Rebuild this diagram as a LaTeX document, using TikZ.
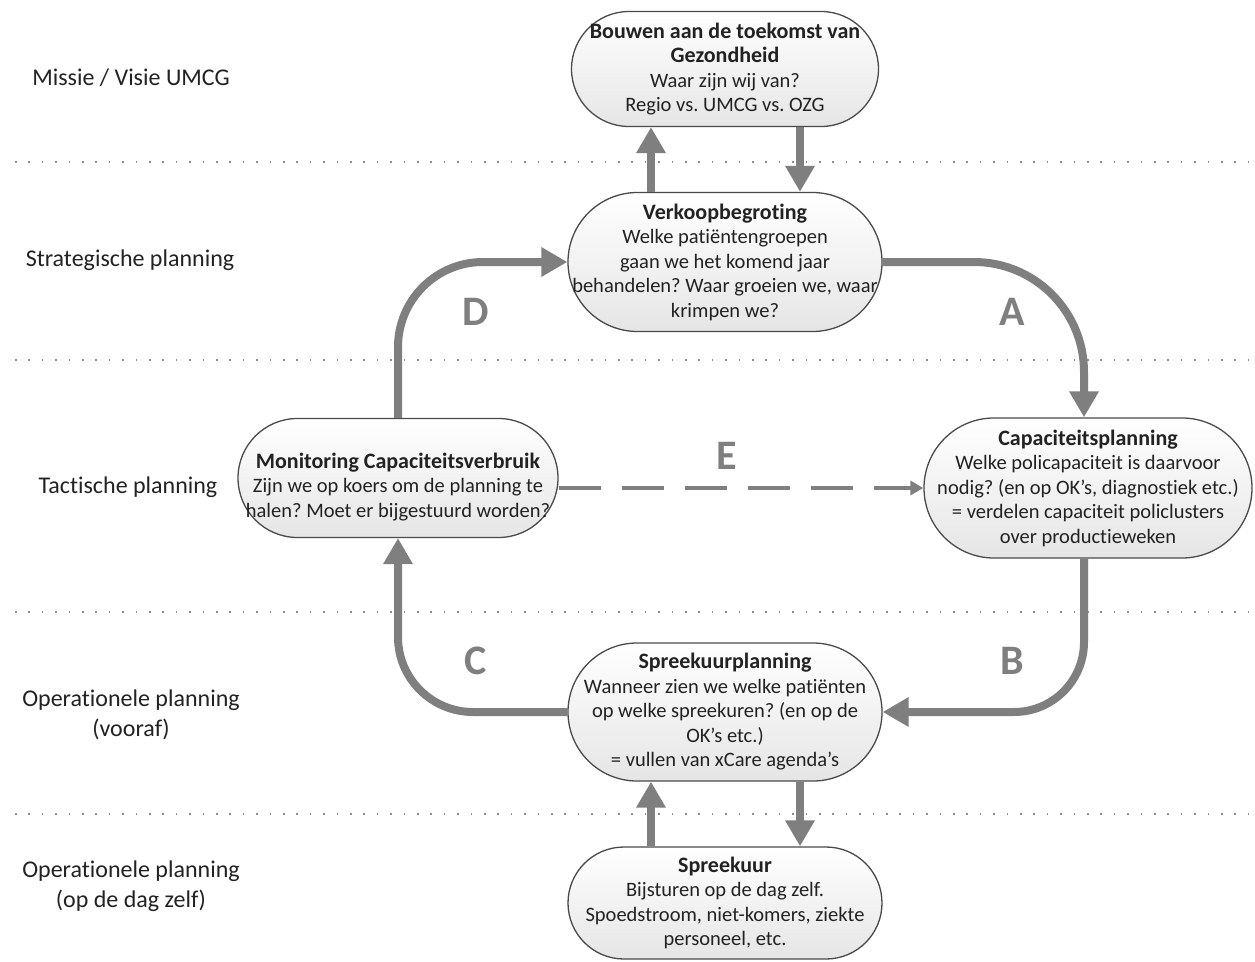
\documentclass[tikz,border=0pt]{standalone}
\usepackage{fontspec}
\setmainfont[Ligatures=CommonOff]{Carlito}
\usetikzlibrary{arrows.meta}

\definecolor{flow}{HTML}{7F7F7F}
\definecolor{rim}{HTML}{4A4A4A}
\definecolor{ink}{HTML}{222222}
\definecolor{sep}{HTML}{8C8C8C}

\newcommand\steptitle[1]{{\fontsize{22}{24.5}\selectfont\bfseries #1}}

\begin{document}
\frenchspacing
\begin{tikzpicture}[x=1pt,y=-1pt,
  box/.style 2 args={draw=rim, line width=1.3pt, top color=white, bottom color=black!10,
    rectangle, rounded corners=#2/2, minimum width=#1, minimum height=#2,
    inner sep=0pt, align=center, text=ink,
    font=\fontsize{20.5}{24.5}\selectfont},
  boxtext/.style={inner sep=0pt, align=center, text=ink,
    font=\fontsize{20.5}{24.5}\selectfont},
  rowlabel/.style={align=center, text=ink, font=\fontsize{24}{30}\selectfont},
  sepline/.style={draw=sep, line width=1.6pt, dash pattern=on 1.6pt off 11.8pt},
  flowarrow/.style={draw=flow, line width=8pt, -{Triangle[width=28pt,length=26pt]}},
  dasharrow/.style={draw=flow, line width=4pt, dash pattern=on 42pt off 21pt,
    -{Triangle[width=14pt,length=13pt]}},
  tag/.style={text=flow, font=\fontsize{42}{42}\selectfont\bfseries}]

\fill[white] (0,0) rectangle (1255,961);
\useasboundingbox (0,0) rectangle (1255,961);

% level separators
\foreach \yy in {162,360,612,814}
  \draw[sepline] (15,\yy) -- (1255,\yy);

% level names
\node[rowlabel] (l1) at (131,78) {Missie / Visie UMCG};
\node[rowlabel] (l2) at (130,260) {Strategische planning};
\node[rowlabel] (l3) at (128,487) {Tactische planning};
\node[rowlabel] (l4) at (131,715) {Operationele planning\\(vooraf)};
\node[rowlabel] (l5) at (131,886) {Operationele planning\\(op de dag zelf)};

% planning steps
\node[box={307}{115}] (mis) at (725,69)
  {\steptitle{Bouwen aan de toekomst van}\\\steptitle{Gezondheid}\\Waar zijn wij van?\\Regio vs. UMCG vs. OZG};
\node[box={314}{139}] (verk) at (725,262)
  {\steptitle{Verkoopbegroting}\\Welke patiëntengroepen\\gaan we het komend jaar\\behandelen? Waar groeien we, waar\\krimpen we?};
\node[box={320}{119}] (mon) at (398,478) {};
\node[boxtext] (montext) at ([yshift=-9pt]mon.center)
  {\steptitle{Monitoring Capaciteitsverbruik}\\Zijn we op koers om de planning te\\halen? Moet er bijgestuurd worden?};
\node[box={328}{140}] (cap) at (1088,488)
  {\steptitle{Capaciteitsplanning}\\Welke policapaciteit is daarvoor\\nodig? (en op OK’s, diagnostiek etc.)\\= verdelen capaciteit policlusters\\over productieweken};
\node[box={314}{138}] (spk) at (725,712)
  {\steptitle{Spreekuurplanning}\\Wanneer zien we welke patiënten\\op welke spreekuren? (en op de\\OK’s etc.)\\= vullen van xCare agenda’s};
\node[box={314}{112}] (day) at (725,903)
  {\steptitle{Spreekuur}\\Bijsturen op de dag zelf.\\Spoedstroom, niet-komers, ziekte\\personeel, etc.};

% vertical exchanges between levels
\draw[flowarrow] ([xshift=-74pt]verk.north) -- ([xshift=-74pt]mis.south);
\draw[flowarrow] ([xshift=75pt]mis.south) -- ([xshift=75pt]verk.north);
\draw[flowarrow] ([xshift=-74pt]day.north) -- ([xshift=-74pt]spk.south);
\draw[flowarrow] ([xshift=75pt]spk.south) -- ([xshift=75pt]day.north);

% planning cycle
\draw[flowarrow, rounded corners=110pt] (verk.east) -| ([xshift=-4pt]cap.north);
\draw[flowarrow, rounded corners=70pt] ([xshift=-4pt]cap.south) |- (spk.east);
\draw[flowarrow, rounded corners=75pt] (spk.west) -| (mon.south);
\draw[flowarrow, rounded corners=85pt] (mon.north) |- (verk.west);
\draw[dasharrow] (mon.east |- cap.west) -- (cap.west);

% cycle step letters
\node[tag] (tA) at (1012,312) {A};
\node[tag] (tB) at (1012,661) {B};
\node[tag] (tC) at (476,661) {C};
\node[tag] (tD) at (476,312) {D};
\node[tag] (tE) at (727,456) {E};
\end{tikzpicture}
\end{document}
